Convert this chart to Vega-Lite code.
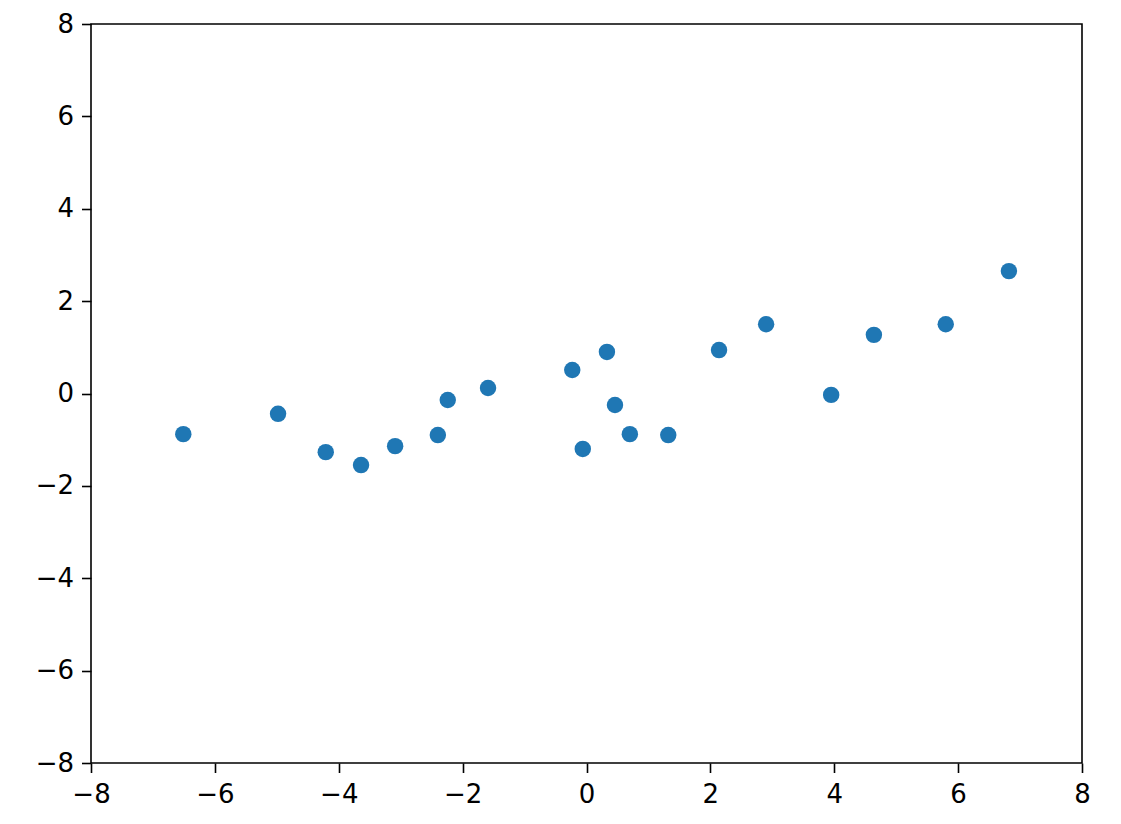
{
  "$schema": "https://vega.github.io/schema/vega-lite/v6.json",
  "width": 991,
  "height": 739,
  "autosize": {"type": "none"},
  "padding": {"left": 91, "top": 24, "right": 39, "bottom": 61},
  "background": "white",
  "config": {
    "view": {"stroke": "black", "strokeWidth": 1.6},
    "axis": {
      "grid": false,
      "domain": false,
      "tickColor": "black",
      "tickWidth": 1.6,
      "tickSize": 9.5,
      "labelFont": "DejaVu Sans",
      "labelFontSize": 26,
      "labelColor": "black",
      "labelPadding": 9,
      "title": null
    }
  },
  "data": {
    "values": [
      {"x": -6.51, "y": -0.88},
      {"x": -4.98, "y": -0.44},
      {"x": -4.21, "y": -1.27},
      {"x": -3.64, "y": -1.55},
      {"x": -3.09, "y": -1.14},
      {"x": -2.40, "y": -0.90},
      {"x": -2.24, "y": -0.14},
      {"x": -1.59, "y": 0.12},
      {"x": -0.23, "y": 0.51},
      {"x": -0.06, "y": -1.20},
      {"x": 0.33, "y": 0.90},
      {"x": 0.46, "y": -0.25},
      {"x": 0.70, "y": -0.88},
      {"x": 1.32, "y": -0.90},
      {"x": 2.14, "y": 0.94},
      {"x": 2.90, "y": 1.50},
      {"x": 3.95, "y": -0.03},
      {"x": 4.64, "y": 1.27},
      {"x": 5.80, "y": 1.50},
      {"x": 6.82, "y": 2.65}
    ]
  },
  "mark": {"type": "circle", "color": "#1f77b4", "opacity": 1, "size": 270},
  "encoding": {
    "x": {
      "field": "x",
      "type": "quantitative",
      "scale": {"domain": [-8, 8], "nice": false, "zero": false},
      "axis": {
        "values": [-8, -6, -4, -2, 0, 2, 4, 6, 8],
        "labelExpr": "datum.value < 0 ? '\u2212' + abs(datum.value) : '' + datum.value",
        "labelFlush": false
      }
    },
    "y": {
      "field": "y",
      "type": "quantitative",
      "scale": {"domain": [-8, 8], "nice": false, "zero": false},
      "axis": {
        "values": [-8, -6, -4, -2, 0, 2, 4, 6, 8],
        "labelExpr": "datum.value < 0 ? '\u2212' + abs(datum.value) : '' + datum.value",
        "labelFlush": false,
        "labelPadding": 8
      }
    }
  }
}
